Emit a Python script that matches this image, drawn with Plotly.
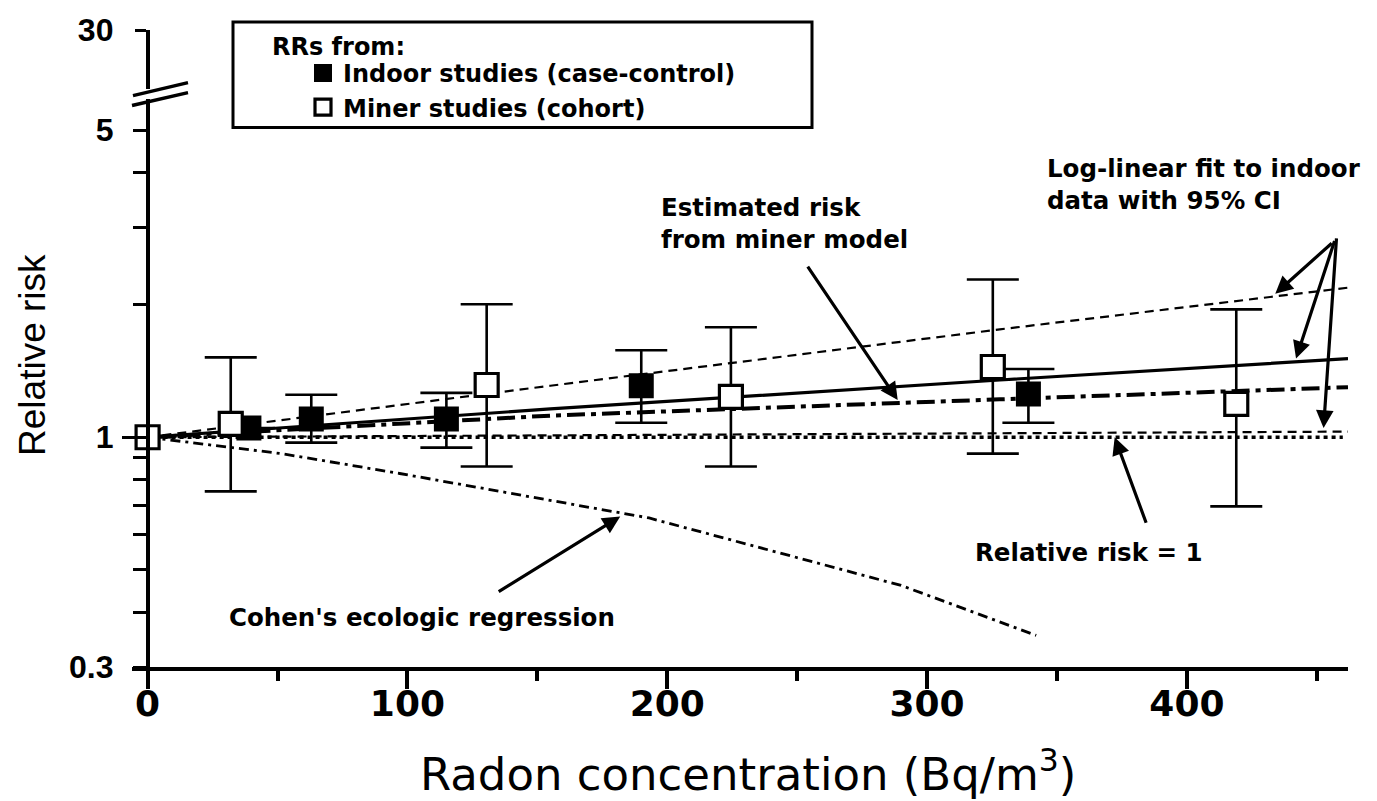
import math
import plotly.graph_objects as go

# ---------------- data ----------------
# Indoor (case-control) studies: filled squares
indoor_x = [39, 63, 115, 190, 339]
indoor_rr = [1.05, 1.10, 1.10, 1.31, 1.255]
indoor_lo = [None, 0.972, 0.947, 1.079, 1.079]
indoor_hi = [None, 1.249, 1.262, 1.578, 1.43]

# Miner (cohort) studies: open squares
miner_x = [0, 32, 130.5, 224.5, 325.3, 419]
miner_rr = [1.0, 1.073, 1.315, 1.236, 1.445, 1.191]
miner_lo = [None, 0.753, 0.858, 0.858, 0.918, 0.696]
miner_hi = [None, 1.52, 2.007, 1.779, 2.286, 1.954]

# Curves
fit_x = [0, 155, 328, 462]
fit_rr = [1.0, 1.16, 1.35, 1.51]          # log-linear fit (solid)
ci_hi_x = [0, 155, 328, 462]
ci_hi_rr = [1.0, 1.31, 1.76, 2.19]        # upper 95% CI
ci_lo_x = [0, 462]
ci_lo_rr = [1.0, 1.03]                    # lower 95% CI
mm_x = [0, 155, 328, 462]
mm_rr = [1.0, 1.12, 1.22, 1.30]           # estimated risk from miner model
cohen_x = [0, 52, 97, 155, 193, 290, 342]
cohen_rr = [1.0, 0.917, 0.827, 0.72, 0.655, 0.46, 0.354]
rr1_x = [0, 460]
rr1_rr = [1.0, 1.0]

x_ticks = [0, 100, 200, 300, 400]
x_minor = [50, 150, 250, 350, 450]
y_ticks = [0.3, 0.4, 0.5, 0.6, 0.7, 0.8, 0.9, 1, 2, 3, 4, 5]
y_ticktext = ["0.3", "", "", "", "", "", "", "1", "", "", "", "5"]

# ---------------- geometry ----------------
W, H = 1377, 801
ML, MR, MT, MB = 132, 29, 26, 134
PW, PH = W - ML - MR, H - MT - MB
XR = [-6, 462]
Y_MAIN_TOP = 0.8924
Y_TOP_BOT = 0.908


def px(xp):
    return (xp - ML) / PW


def py(yp):
    return (H - MB - yp) / PH


def err(v, lo, hi):
    plus = [None if h is None else h - r for r, h in zip(v, hi)]
    minus = [None if l is None else r - l for r, l in zip(v, lo)]
    return plus, minus


YTICKFONT = dict(family="Liberation Sans", size=32, color="black", weight="bold")
XTICKFONT = dict(family="DejaVu Sans", size=36, color="black", weight="bold")
ANNFONT = dict(family="DejaVu Sans", size=24.5, color="black", weight="bold")
LEGFONT = dict(family="DejaVu Sans", size=24, color="black", weight="bold")

fig = go.Figure()

line_specs = [
    (rr1_x, rr1_rr, dict(color="black", width=3.5, dash="4px,4px")),
    (ci_lo_x, ci_lo_rr, dict(color="black", width=2.2, dash="9px,6px")),
    (ci_hi_x, ci_hi_rr, dict(color="black", width=2.2, dash="9px,6px")),
    (cohen_x, cohen_rr, dict(color="black", width=2.8, dash="10px,5px,3px,5px")),
    (mm_x, mm_rr, dict(color="black", width=4, dash="18px,6px,5px,6px")),
    (fit_x, fit_rr, dict(color="black", width=3.2)),
]
for xs, ys, ln in line_specs:
    fig.add_trace(go.Scatter(x=xs, y=ys, mode="lines", line=ln,
                             showlegend=False, hoverinfo="skip"))

ip, im = err(indoor_rr, indoor_lo, indoor_hi)
fig.add_trace(go.Scatter(
    x=indoor_x, y=indoor_rr, mode="markers", name="Indoor studies (case-control)",
    marker=dict(symbol="square", size=23, color="black",
                line=dict(color="black", width=2)),
    error_y=dict(type="data", array=ip, arrayminus=im, color="black",
                 thickness=2.6, width=26),
))
mp, mmn = err(miner_rr, miner_lo, miner_hi)
fig.add_trace(go.Scatter(
    x=miner_x, y=miner_rr, mode="markers", name="Miner studies (cohort)",
    marker=dict(symbol="square", size=23, color="white",
                line=dict(color="black", width=3.2)),
    error_y=dict(type="data", array=mp, arrayminus=mmn, color="black",
                 thickness=2.6, width=26),
))
# helper traces so the extra axes are drawn
fig.add_trace(go.Scatter(x=[None], y=[None], yaxis="y2", showlegend=False, hoverinfo="skip"))
fig.add_trace(go.Scatter(x=[None], y=[None], yaxis="y3", showlegend=False, hoverinfo="skip"))

ypos = (0 - XR[0]) / (XR[1] - XR[0])

fig.update_layout(
    width=W, height=H,
    margin=dict(l=ML, r=MR, t=MT, b=MB),
    paper_bgcolor="white", plot_bgcolor="white",
    font=dict(family="DejaVu Sans", color="black"),
    xaxis=dict(range=XR, showline=True, linewidth=3.5, linecolor="black",
               ticks="outside", tickvals=x_ticks, ticklen=18, tickwidth=3.5,
               tickcolor="black", tickfont=XTICKFONT,
               ticklabelstandoff=-16,
               minor=dict(tickvals=x_minor, ticks="outside", ticklen=10,
                          tickwidth=3.5, tickcolor="black"),
               showgrid=False, zeroline=False),
    yaxis=dict(type="log", domain=[0, Y_MAIN_TOP],
               range=[math.log10(0.3), math.log10(5.9)],
               anchor="free", position=ypos,
               showline=True, linewidth=3.5, linecolor="black",
               ticks="outside", tickvals=y_ticks, ticktext=y_ticktext,
               ticklen=13, tickwidth=3, tickcolor="black",
               tickfont=YTICKFONT, ticklabelstandoff=13,
               showgrid=False, zeroline=False),
    yaxis3=dict(type="log", overlaying="y",
                range=[math.log10(0.3), math.log10(5.9)],
                anchor="free", position=ypos,
                ticks="outside", tickvals=[1], ticklen=26, tickwidth=3,
                tickcolor="black", showticklabels=False, showline=False,
                showgrid=False, zeroline=False),
    yaxis2=dict(type="log", domain=[Y_TOP_BOT, 1],
                range=[math.log10(25), math.log10(30)],
                anchor="free", position=ypos,
                showline=True, linewidth=3.5, linecolor="black",
                ticks="outside", tickvals=[30], ticktext=["30"],
                ticklen=11, tickwidth=3, tickcolor="black",
                tickfont=YTICKFONT, ticklabelstandoff=15,
                showgrid=False, zeroline=False),
    legend=dict(x=px(303), y=py(47), xanchor="left", yanchor="top",
                bgcolor="rgba(0,0,0,0)", borderwidth=0,
                font=LEGFONT, tracegroupgap=0),
    showlegend=True,
)

# legend frame and axis break marks
shapes = [
    dict(type="rect", xref="paper", yref="paper",
         x0=px(233), x1=px(812), y0=py(124), y1=py(18),
         line=dict(color="black", width=3)),
    dict(type="line", xref="paper", yref="paper",
         x0=px(133), y0=py(92), x1=px(188), y1=py(79),
         line=dict(color="black", width=3.5)),
    dict(type="line", xref="paper", yref="paper",
         x0=px(132), y0=py(102), x1=px(188), y1=py(89),
         line=dict(color="black", width=3.5)),
]
fig.update_layout(shapes=shapes)

ann = []
# text labels
texts = [
    ("RRs from:", 270, 43, LEGFONT),
    ("Estimated risk<br>from miner model", 659, 221, ANNFONT),
    ("Log-linear fit to indoor<br>data with 95% CI", 1045, 181, ANNFONT),
    ("Relative risk = 1", 973, 552, ANNFONT),
    ("Cohen's ecologic regression", 227, 617, ANNFONT),
]
for t, xp, yp, f in texts:
    ann.append(dict(text=t, xref="paper", yref="paper", x=px(xp), y=py(yp),
                    xanchor="left", yanchor="middle", align="left",
                    showarrow=False, font=f))

# axis titles
ann.append(dict(text="Relative risk", xref="paper", yref="paper",
                x=px(33), y=py(353), textangle=-90, showarrow=False,
                xanchor="center", yanchor="middle",
                font=dict(family="Liberation Sans", size=37, color="black")))
ann.append(dict(text="Radon concentration (Bq/m<sup>3</sup>)", xref="paper", yref="paper",
                x=px(748), y=py(772), showarrow=False,
                xanchor="center", yanchor="middle",
                font=dict(family="DejaVu Sans", size=45, color="black")))

# arrows: tip in data coordinates, tail as pixel offset
arrows = [
    (288.7, 1.215, -91, -135),
    (434.0, 2.12, 58, -52),
    (442.0, 1.51, 39, -119),
    (452.6, 1.05, 13, -191),
    (372.2, 1.0, 32, 87),
    (181.9, 0.66, -123, 76),
]
for x, y, ax, ay in arrows:
    ann.append(dict(text="", x=x, y=math.log10(y), xref="x", yref="y",
                    ax=ax, ay=ay, axref="pixel", ayref="pixel",
                    showarrow=True, arrowhead=2, arrowsize=1.1,
                    arrowwidth=3.2, arrowcolor="black", standoff=0))
fig.update_layout(annotations=ann)

fig.write_html("out.html", config={"displayModeBar": False},
               post_script="document.body.style.margin='0';document.body.style.overflow='hidden';")
